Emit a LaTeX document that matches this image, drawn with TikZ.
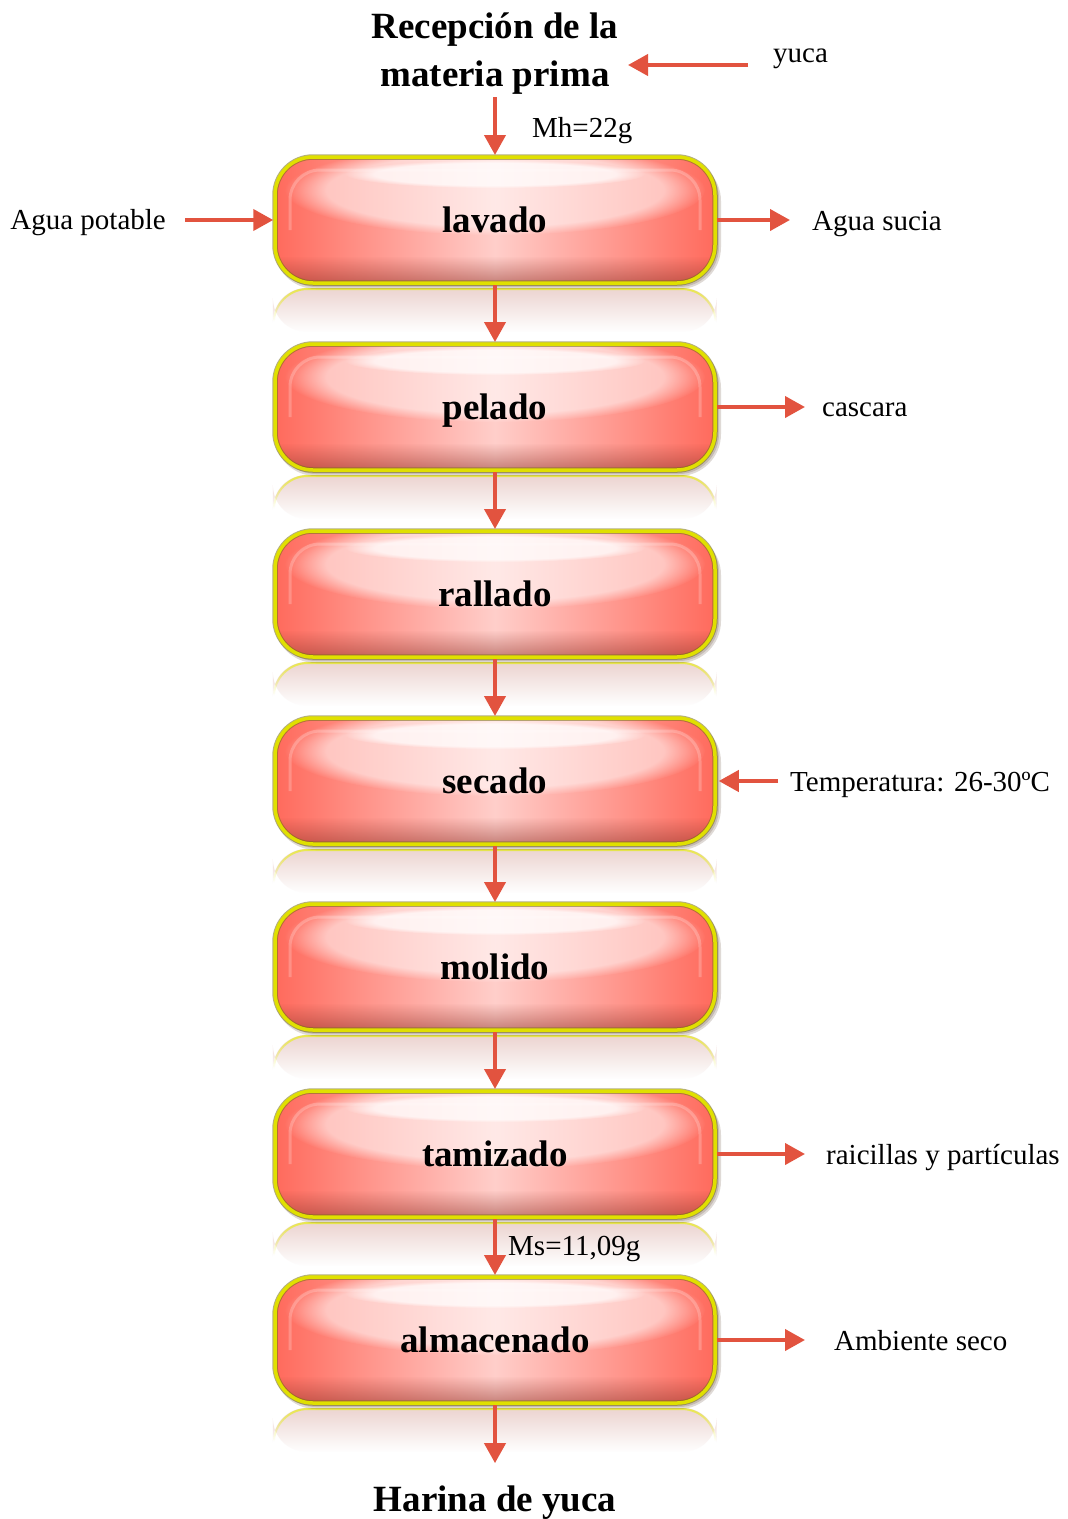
\documentclass[tikz,border=0pt]{standalone}
\usepackage{fontspec}
\setmainfont{Liberation Serif}
\usetikzlibrary{arrows.meta,fadings,calc}

\definecolor{boxred}{RGB}{255,106,92}
\definecolor{boxpink}{RGB}{255,206,202}
\definecolor{boxyellow}{RGB}{224,224,0}
\definecolor{rimdark}{RGB}{120,110,20}
\definecolor{arrred}{RGB}{226,83,63}
\definecolor{shadowc}{RGB}{80,50,30}
\definecolor{reflc}{RGB}{236,212,208}
\definecolor{darkbot}{RGB}{140,50,40}

\tikzset{
  arr/.style={draw=arrred, line width=4pt, -{Triangle[length=20pt,width=21pt]}},
  lbl/.style={inner sep=0pt, font=\fontsize{29}{32}\selectfont},
  ttl/.style={inner sep=0pt, font=\bfseries\fontsize{37}{44}\selectfont},
  procbox/.style={minimum width=443.5pt, minimum height=130pt, outer sep=0pt,
    inner sep=0pt, text height=25pt, text depth=0pt,
    font=\bfseries\fontsize{37}{44}\selectfont}
}

\newcommand\ProcBox[3]{%
  % reflection
  \fill[reflc, path fading=south, rounded corners=34pt]
    (273,#2+112) -- (273,#2+68) -- (717,#2+68) -- (717,#2+112) -- cycle;
  \draw[boxyellow!70, line width=2pt, path fading=south, rounded corners=34pt]
    (274,#2+100) -- (274,#2+69) -- (716,#2+69) -- (716,#2+100);
  % shadow
  \fill[shadowc, opacity=.18, rounded corners=42pt] (274,#2-61) rectangle (721,#2+69);
  \fill[shadowc, opacity=.18, rounded corners=40pt] (276,#2-62) rectangle (719,#2+67);
  % body
  \shade[rounded corners=38pt, left color=boxred, right color=boxred, middle color=boxpink]
    (275,#2-63) rectangle (715,#2+63);
  \begin{scope}
    \clip[rounded corners=38pt] (275,#2-63) rectangle (715,#2+63);
    \fill[darkbot, opacity=.5, path fading=north] (275,#2+36) rectangle (715,#2+63);
    \fill[white, opacity=.55, path fading=circle with fuzzy edge 20 percent]
      (495,#2-30) ellipse (210 and 45);
    \fill[white, opacity=.7, path fading=circle with fuzzy edge 20 percent]
      (495,#2-46) ellipse (150 and 14);
    \draw[white, opacity=.22, line width=3pt, rounded corners=30pt]
      (290,#2+10) -- (290,#2-50) -- (700,#2-50) -- (700,#2+10);
  \end{scope}
  % border
  \draw[rimdark, line width=5.5pt, opacity=.55, rounded corners=38pt]
    (275,#2-63) rectangle (715,#2+63);
  \draw[boxyellow, line width=3.5pt, rounded corners=38pt]
    (275,#2-63) rectangle (715,#2+63);
  \node[procbox] (#1) at (495,#2) {#3};
}

\begin{document}
\begin{tikzpicture}[x=1pt,y=-1pt]
  \fill[white] (0,0) rectangle (1068,1519);
  \useasboundingbox (0,0) rectangle (1068,1519);

  \ProcBox{lavado}{220}{lavado}
  \ProcBox{pelado}{407}{pelado}
  \ProcBox{rallado}{594}{rallado}
  \ProcBox{secado}{781}{secado}
  \ProcBox{molido}{967}{molido}
  \ProcBox{tamizado}{1154}{tamizado}
  \ProcBox{almacenado}{1340}{almacenado}

  % titles
  \node[ttl, anchor=base] (title1) at (495,38) {Recepción de la};
  \node[ttl, anchor=base] (title2) at (495,86) {materia prima};
  \node[ttl, anchor=base] (harina) at (495,1511) {Harina de yuca};

  % labels
  \node[lbl, anchor=base west] (yuca) at (773,62) {yuca};
  \node[lbl, anchor=base west] (mh) at (532,137) {Mh=22g};
  \node[lbl, anchor=base east] (agua) at (166,229) {Agua potable};
  \node[lbl, anchor=base west] (sucia) at (812,230) {Agua sucia};
  \node[lbl, anchor=base west] (cascara) at (822,416) {cascara};
  \node[lbl, anchor=base west] (temp) at (790,791) {Temperatura: 26-30ºC};
  \node[lbl, anchor=base west] (raic) at (826,1164) {raicillas y partículas};
  \node[lbl, anchor=base west] (ms) at (508,1255) {Ms=11,09g};
  \node[lbl, anchor=base west] (amb) at (834,1350) {Ambiente seco};

  \coordinate (yt) at (628,65);

  % arrows
  \draw[arr, shorten <=25pt] (yuca.west |- yt) -- (yt);
  \draw[arr, shorten <=3pt] (title2.south) -- (lavado.north);
  \draw[arr, shorten <=19pt] (agua.east |- lavado.west) -- (lavado.west);
  \draw[arr, shorten >=22pt] (lavado.east) -- (lavado.east -| sucia.west);
  \draw[arr] (lavado.south) -- (pelado.north);
  \draw[arr, shorten >=17pt] (pelado.east) -- (pelado.east -| cascara.west);
  \draw[arr] (pelado.south) -- (rallado.north);
  \draw[arr] (rallado.south) -- (secado.north);
  \draw[arr, shorten <=12pt, shorten >=2pt] (temp.west |- secado.east) -- (secado.east);
  \draw[arr] (secado.south) -- (molido.north);
  \draw[arr] (molido.south) -- (tamizado.north);
  \draw[arr, shorten >=21pt] (tamizado.east) -- (tamizado.east -| raic.west);
  \draw[arr] (tamizado.south) -- (almacenado.north);
  \draw[arr, shorten >=29pt] (almacenado.east) -- (almacenado.east -| amb.west);
  \draw[arr, shorten >=22pt] (almacenado.south) -- (harina.north);
\end{tikzpicture}
\end{document}
